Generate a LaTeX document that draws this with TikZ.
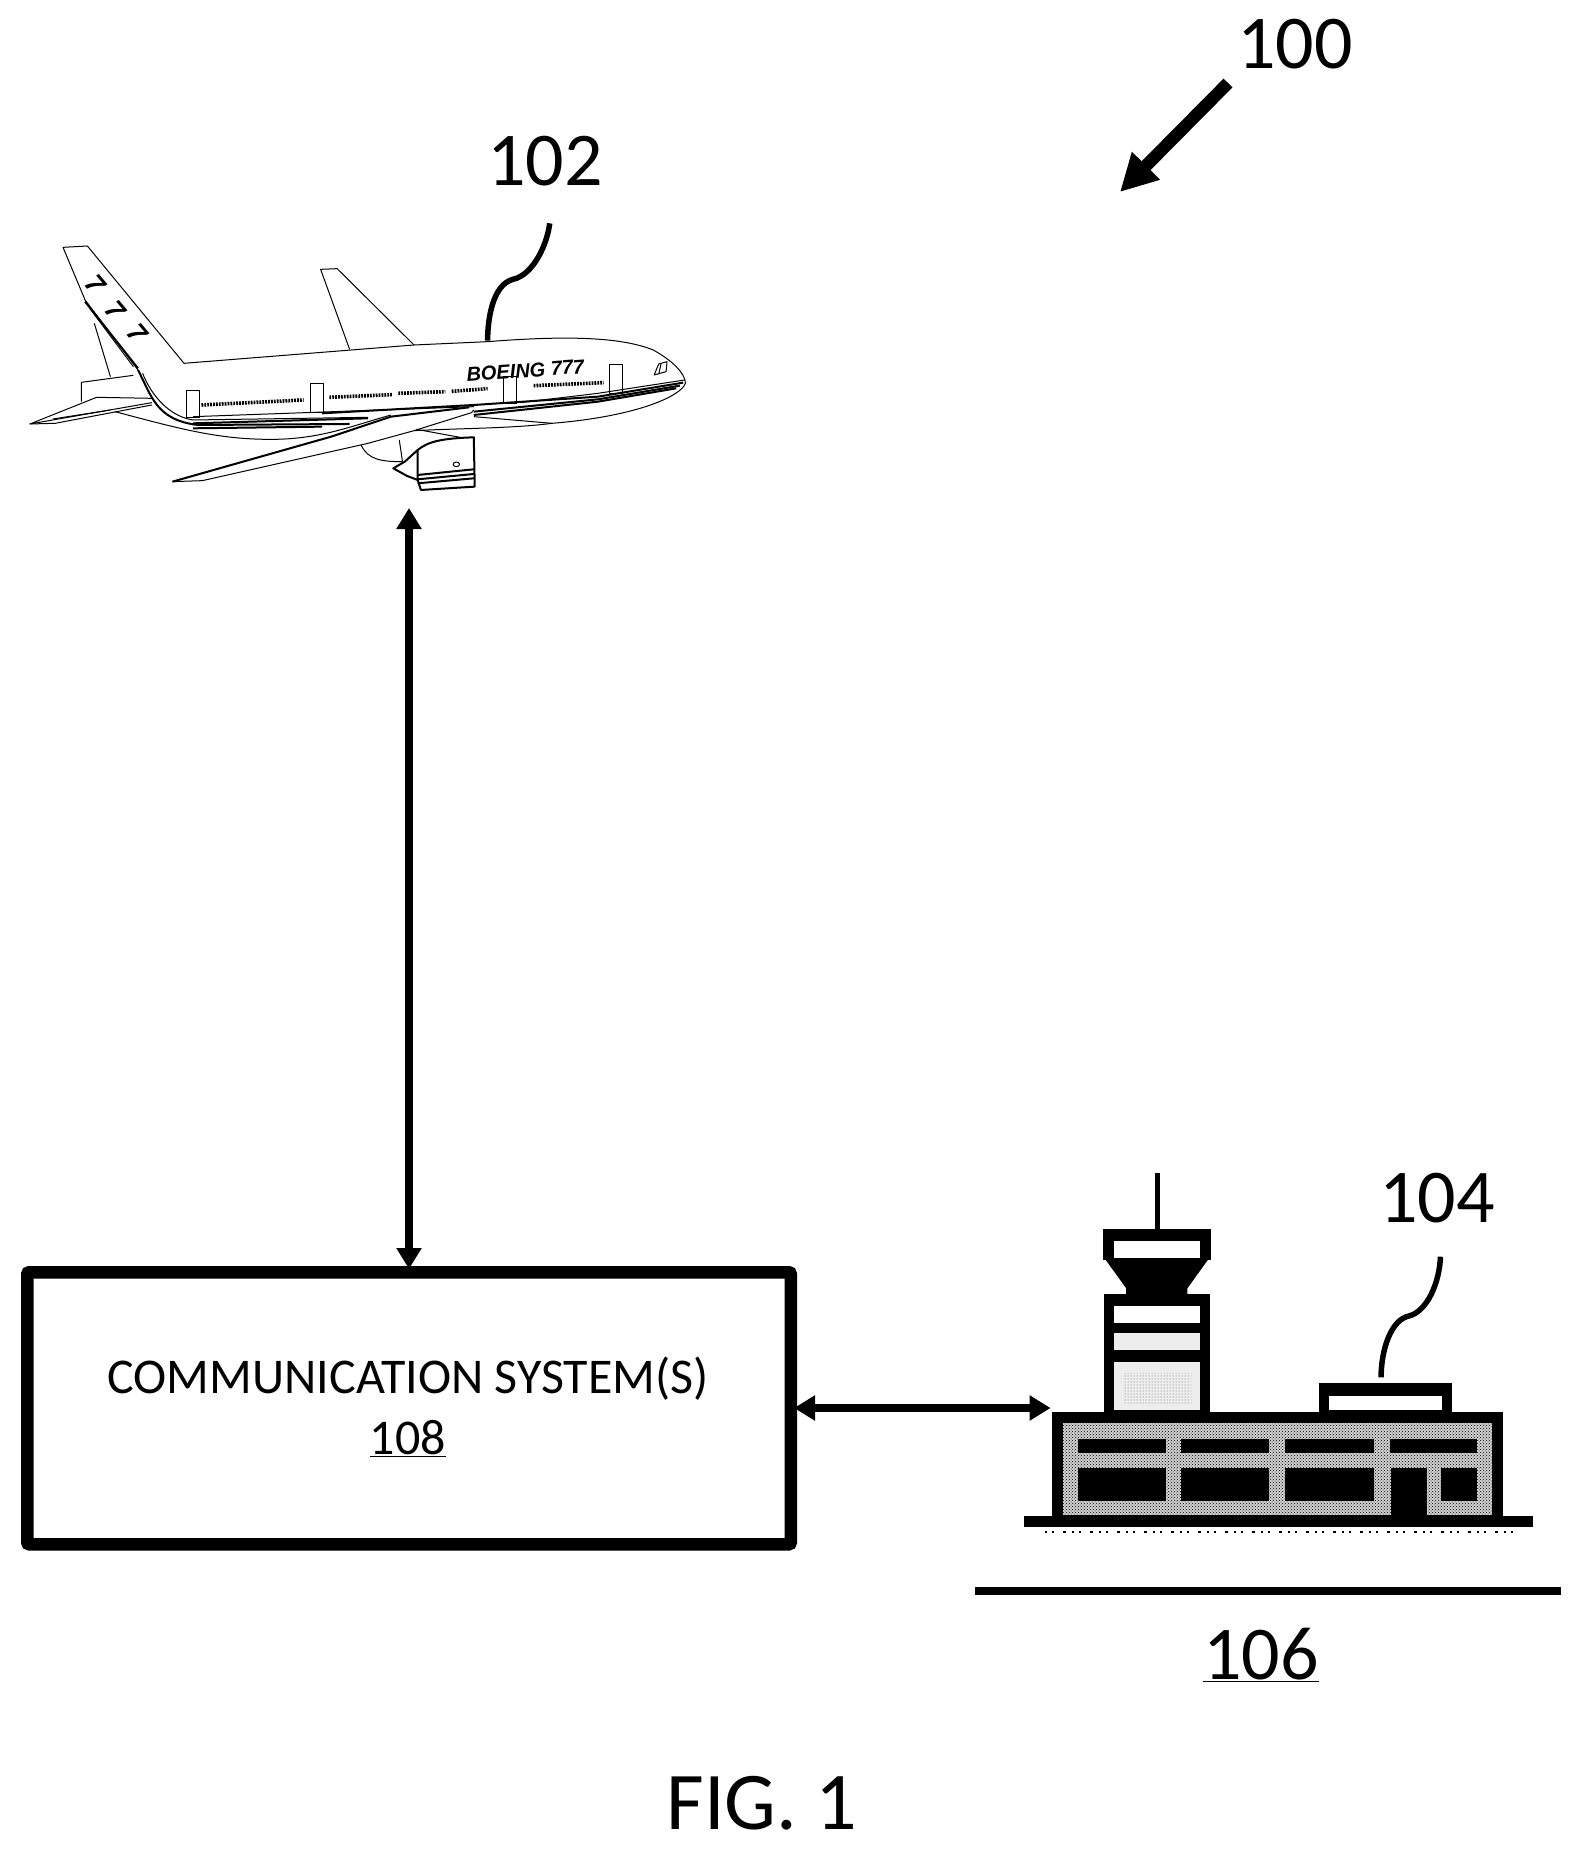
\documentclass[tikz,border=0pt]{standalone}
\usepackage{fontspec}
\setmainfont{Carlito}
\newfontfamily\planefont{Liberation Sans}
\usetikzlibrary{arrows.meta,patterns}
\definecolor{stipB}{gray}{0.93}
\tikzset{
  refnum/.style={inner sep=0pt,font=\fontsize{76}{80}\selectfont},
  boxtext/.style={inner sep=0pt,font=\fontsize{50}{54}\selectfont},
  figtext/.style={inner sep=0pt,font=\fontsize{82}{90}\selectfont},
  dblarrow/.style={line width=8pt,{Triangle[length=21pt,width=24pt]}-{Triangle[length=21pt,width=24pt]}},
  bigarrow/.style={line width=12.5pt,-{Triangle[length=37pt,width=37pt]}},
  squig/.style={line width=5.5pt},
  pl/.style={line width=1pt,line join=round},
  plb/.style={line width=2pt,line join=round},
  win/.style={line width=3.6pt,dash pattern=on 1.8pt off 1.1pt},
  taildigit/.style={inner sep=0pt,rotate=-50,font=\planefont\bfseries\itshape\fontsize{27}{27}\selectfont},
}
\begin{document}
\begin{tikzpicture}[x=1pt,y=-1pt]
\useasboundingbox (0,0) rectangle (1581,1850);
\fill[white] (0,0) rectangle (1581,1850);
% labels
\node[refnum] (n100) at (1295,44) {100};
\node[refnum] (n102) at (545,161) {102};
\node[refnum] (n104) at (1437,1198) {104};
\node[refnum] (n106) at (1261,1655) {\underline{106}};
\node[figtext] (fig) at (762,1803) {FIG. 1};
\coordinate (a100s) at (1228,83);
\coordinate (a100e) at (1120,192);
\draw[bigarrow] (a100s) -- (a100e);
\coordinate (l106a) at (975,1591);
\coordinate (l106b) at (1561,1591);
\draw[line width=8pt] (l106a) -- (l106b);
% plane
\begin{scope}[shift={(0,220)},x=0.46pt,y=-0.3333pt]
% tail fin
\draw[pl] (400,430) -- (190,78) -- (137,82) -- (185,240) -- (300,450);
\draw[plb] (185,245) -- (300,445);
\draw[pl] (195,265) -- (290,440);
\draw[pl] (205,310) -- (240,470);
% tail 777
\node[taildigit] (ta) at (207,192) {7};
\node[taildigit] (tb) at (252,272) {7};
\node[taildigit] (tc) at (298,340) {7};
% fuselage
\draw[pl] (400,430) -- (900,375) -- (1060,365) .. controls (1200,350) and (1340,345) .. (1420,390) .. controls (1460,420) and (1490,460) .. (1490,490) .. controls (1480,530) and (1380,590) .. (1200,610) -- (1030,590);
\draw[pl] (1200,610) .. controls (1120,625) and (1000,625) .. (900,632);
% far wing
\draw[pl] (760,388) -- (697,148) -- (733,146) -- (900,375);
% stripes
\draw[plb] (300,450) .. controls (330,530) and (340,600) .. (430,615) -- (760,612);
\draw[pl] (310,460) .. controls (330,530) and (370,590) .. (420,600) -- (800,592);
\draw[plb] (700,580) -- (1030,555) -- (1300,530) -- (1485,488);
\draw[plb] (1030,585) -- (1300,545) -- (1470,505);
\draw[plb] (1030,575) -- (1300,538) -- (1478,497);
\draw[pl] (1130,548) -- (1300,520) -- (1488,480);
\draw[pl] (420,590) -- (1030,560);
\draw[plb] (420,610) -- (800,595);
\draw[plb] (420,625) -- (700,620);
% belly
\draw[pl] (250,575) .. controls (400,630) and (480,660) .. (600,658) .. controls (700,655) and (760,620) .. (850,585);
% doors
\foreach \dx/\dy/\dh in {405/512/80,676/492/85,1095/470/80,1326/435/85}{
  \draw[pl] (\dx,\dy) rectangle (\dx+28,\dy+\dh);
}
% windows
\draw[win] (438,555) -- (660,540);
\draw[win] (716,532) -- (852,524);
\draw[win] (866,520) -- (968,515);
\draw[win] (982,514) -- (1060,506);
\draw[win] (1160,497) -- (1312,488);
% cockpit
\draw[pl] (1422,465) -- (1432,432) -- (1450,425) -- (1448,455) -- cycle;
\draw[pl] (1437,432) -- (1432,462);
% logo
\node[inner sep=0pt,rotate=4,font=\planefont\bfseries\itshape\fontsize{20}{20}\selectfont] (logo) at (1142,452) {BOEING 777};
% horizontal stabiliser
\draw[pl] (290,466) -- (177,487) -- (177,545);
\draw[pl] (330,535) -- (210,532) -- (65,612) -- (330,548);
\draw[pl] (115,597) -- (240,570);
\draw[pl] (65,612) -- (120,610) -- (330,555);
% near wing
\draw[pl] (375,785) -- (440,782) -- (800,670) -- (900,632) -- (1025,578) -- (1030,570);
\draw[plb] (375,785) -- (720,650) -- (850,590) -- (1020,562);
% engine
\draw[pl] (785,675) .. controls (800,720) and (830,725) .. (875,725);
\draw[pl] (868,660) -- (875,725);
\draw[plb] (908,690) .. controls (930,665) and (960,655) .. (1030,652) -- (1032,800) -- (915,810) -- (908,780) -- (908,690) -- (880,725) -- (855,745) -- (885,768) -- (908,780);
\draw[plb] (908,765) -- (1030,748);
\draw[plb] (908,778) -- (1030,762);
\draw[plb] (908,790) -- (1030,775);
\draw[pl] (992,733) circle[radius=7];
\draw[pl] (905,628) -- (1000,652);
\coordinate (sq102a) at (1195,10);
\coordinate (sq102b) at (1060,362);
\coordinate (c102a) at (1190,70);
\coordinate (c102b) at (1160,165);
\coordinate (c102m) at (1115,178);
\coordinate (c102c) at (1070,195);
\coordinate (c102d) at (1060,300);
\draw[squig] (sq102a) .. controls (c102a) and (c102b) .. (c102m) .. controls (c102c) and (c102d) .. (sq102b);
\end{scope}
\node[draw=black,line width=12.5pt,rounded corners=2pt,minimum width=763.5pt,minimum height=272pt,anchor=north west,inner sep=0pt] (comm) at (21,1266) {};
\node[boxtext] (commt) at (408,1379) {COMMUNICATION SYSTEM(S)};
\node[boxtext] (commn) at (408,1439) {\underline{108}};
\coordinate (planeb) at (409,508);
\draw[dblarrow] (planeb) -- ([yshift=-3pt]planeb |- comm.north);
% building, crop coordinates
\begin{scope}[shift={(1020,1160)},x=0.36pt,y=-0.3333pt]
\coordinate (bldw) at (85,743);
\draw[line width=5pt] (383,40) -- (383,215);
% tower cab
\fill[black] (230,208) rectangle (530,300);
\fill[white] (260,243) rectangle (500,293);
\fill[black] (235,295) -- (525,295) -- (465,385) -- (465,415) -- (295,415) -- (295,385) -- cycle;
% tower shaft
\fill[black] (232,403) rectangle (528,770);
\fill[white] (260,438) rectangle (500,490);
\fill[stipB] (260,520) rectangle (500,570);
\fill[stipB] (260,605) rectangle (500,750);
\fill[pattern=dots,pattern color=black!60] (290,640) rectangle (475,735);
% annex
\fill[black] (830,670) rectangle (1200,770);
\fill[white] (858,708) rectangle (1172,750);
% main
\fill[black] (88,757) rectangle (1343,1100);
\fill[black!18] (120,790) rectangle (1312,1065);
\fill[pattern=crosshatch dots,pattern color=black] (120,790) rectangle (1312,1065);
\foreach \xa/\xb in {160/405,447/692,735/982}{
  \fill[black] (\xa,838) rectangle (\xb,878);
  \fill[black] (\xa,925) rectangle (\xb,1022);
}
\fill[black] (1028,838) rectangle (1270,878);
\fill[black] (1170,925) rectangle (1270,1022);
\fill[black] (1030,925) rectangle (1130,1095);
\fill[black] (12,1068) rectangle (1425,1102);
\draw[line width=1.5pt,dash pattern=on 2pt off 5pt on 2pt off 9pt on 3pt off 6pt] (70,1116) -- (1390,1116);
\coordinate (sq104a) at (1168,290);
\coordinate (sq104b) at (1003,652);
\coordinate (c104a) at (1165,370);
\coordinate (c104b) at (1130,455);
\coordinate (c104m) at (1080,468);
\coordinate (c104c) at (1030,480);
\coordinate (c104d) at (1003,570);
\draw[squig] (sq104a) .. controls (c104a) and (c104b) .. (c104m) .. controls (c104c) and (c104d) .. (sq104b);
\end{scope}
\draw[dblarrow] ([xshift=-3pt]comm.east |- 797,1408) -- (bldw |- 797,1408);
\end{tikzpicture}
\end{document}
